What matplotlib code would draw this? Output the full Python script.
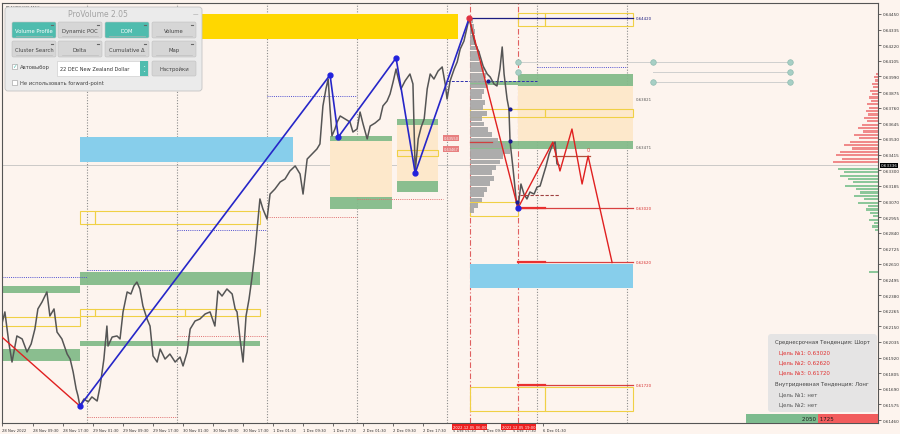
import matplotlib.pyplot as plt
from matplotlib.patches import Rectangle, FancyBboxPatch

# ---------------------------------------------------------------
# data (x = trading hours since 28 Nov 00:00, weekend collapsed)
# ---------------------------------------------------------------
hours = [1.3, 2.1, 3.2, 4.0, 5.3, 6.7, 8.0, 9.1, 10.1, 10.9,
         12.0, 13.3, 14.1, 15.2, 16.0, 17.3, 18.7, 19.5, 20.3, 21.1,
         21.6, 22.1, 23.2, 24.3, 25.3, 26.7, 27.5, 28.5, 29.3, 29.6,
         30.7, 32.0, 32.8, 33.6, 34.7, 35.7, 36.5, 37.3, 38.1, 38.9,
         40.0, 40.8, 41.6, 42.7, 43.5, 44.8, 46.1, 47.5, 48.8, 49.6,
         50.7, 51.5, 52.8, 54.1, 55.5, 56.8, 58.1, 58.9, 60.0, 61.3,
         62.7, 63.5, 64.0, 64.8, 65.6, 66.4, 67.2, 68.0, 68.8, 69.3,
         70.1, 70.9, 72.0, 72.8, 74.1, 75.5, 76.8, 78.1, 79.5, 80.8,
         81.6, 82.7, 84.0, 85.3, 86.1, 86.9, 87.7, 88.3, 88.8, 89.3,
         90.1, 90.7, 91.5, 92.8, 94.1, 94.9, 96.0, 96.8, 97.6, 98.7,
         99.5, 100.8, 102.1, 102.9, 104.0, 104.8, 105.6, 106.4, 106.9, 107.7,
         108.8, 110.1, 110.9, 111.5, 112.3, 113.1, 113.9, 114.7, 115.5, 116.5,
         117.6, 118.7, 119.5, 120.0, 120.8, 121.9, 122.7, 123.5, 124.5, 125.9,
         126.7, 127.5, 128.5, 129.6, 130.7, 131.5, 132.5, 133.3, 134.1, 134.7,
         135.2, 136.0, 136.5, 136.8, 137.6, 138.4, 138.9, 139.7, 140.5, 141.3,
         142.1, 143.2, 144.0, 144.8, 145.6, 146.4, 147.2, 148.0, 148.8, 149.3,
         149.9]
prices = [0.62167, 0.62256, 0.62020, 0.61887, 0.62079, 0.62057, 0.61961, 0.62020, 0.62130, 0.62278,
          0.62329, 0.62403, 0.62226, 0.62278, 0.62108, 0.62057, 0.61946, 0.61909, 0.61814, 0.61689,
          0.61637, 0.61563, 0.61615, 0.61593, 0.61630, 0.61600, 0.61711, 0.61909, 0.62152, 0.62005,
          0.62071, 0.62079, 0.62057, 0.62256, 0.62403, 0.62388, 0.62447, 0.62476, 0.62425, 0.62300,
          0.62204, 0.62152, 0.61932, 0.61887, 0.61983, 0.61909, 0.61946, 0.61887, 0.61924, 0.61858,
          0.61961, 0.62130, 0.62189, 0.62204, 0.62241, 0.62256, 0.62152, 0.62410, 0.62373, 0.62425,
          0.62388, 0.62278, 0.62256, 0.62057, 0.61887, 0.62226, 0.62351, 0.62513, 0.62705, 0.62852,
          0.63088, 0.63014, 0.62940, 0.63124, 0.63161, 0.63213, 0.63235, 0.63294, 0.63331, 0.63272,
          0.63124, 0.63382, 0.63419, 0.63456, 0.63493, 0.63773, 0.63898, 0.63971, 0.63750, 0.63552,
          0.63603, 0.63655, 0.63699, 0.63677, 0.63655, 0.63581, 0.63603, 0.63728, 0.63640, 0.63530,
          0.63625, 0.63647, 0.63677, 0.63773, 0.63809, 0.63861, 0.63949, 0.64045, 0.63986, 0.63898,
          0.63957, 0.64008, 0.63935, 0.63287, 0.63530, 0.63618, 0.63677, 0.63898, 0.64008, 0.63971,
          0.64030, 0.64060, 0.63935, 0.63824, 0.63957, 0.64045, 0.64097, 0.64192, 0.64251, 0.64420,
          0.64317, 0.64229, 0.64170, 0.64067, 0.64008, 0.63986, 0.63935, 0.63920, 0.64045, 0.64207,
          0.64008, 0.63824, 0.63750, 0.63507, 0.63309, 0.63088, 0.63020, 0.63198, 0.63124, 0.63088,
          0.63139, 0.63124, 0.63176, 0.63183, 0.63257, 0.63331, 0.63419, 0.63478, 0.63507, 0.63346,
          0.63336]
current_price = 0.63336

# zigzags
blue_zz_h = [22.1, 88.8, 91.0, 106.4, 111.5, 125.9]
blue_zz_p = [0.61563, 0.64001, 0.63544, 0.64126, 0.63279, 0.64420]
red_zz_h = [1.3, 22.1]
red_zz_p = [0.62071, 0.61563]
red_drop_h = [125.9, 138.9]
red_drop_p = [0.64420, 0.63020]
proj_h = [138.9, 148.2, 150.1, 153.3, 156.0, 157.6, 164.0]
proj_p = [0.63020, 0.63507, 0.63294, 0.63603, 0.63198, 0.63404, 0.62620]
small_dots_h = [131.0, 136.8, 136.8, 138.7]
small_dots_p = [0.63957, 0.63750, 0.63515, 0.63066]

# zones: (start h, end h, low, high)
gold_zones = [(22.1, 123.0, 0.64266, 0.64450)]
sky_zones = [(22.1, 78.9, 0.63360, 0.63544), (126.0, 169.6, 0.62432, 0.62609)]
green_zones = [(0.0, 22.1, 0.62395, 0.62447), (0.0, 22.1, 0.61895, 0.61983),
               (22.1, 70.1, 0.62454, 0.62550), (22.1, 70.1, 0.62005, 0.62042),
               (88.8, 105.3, 0.63515, 0.63552), (88.8, 105.3, 0.63014, 0.63102),
               (106.7, 117.6, 0.63633, 0.63677), (106.7, 117.6, 0.63139, 0.63220),
               (139.0, 169.6, 0.63920, 0.64008), (126.0, 139.0, 0.63927, 0.63957),
               (126.0, 169.6, 0.63456, 0.63515)]
peach_zones = [(88.8, 105.3, 0.63102, 0.63515), (106.7, 117.6, 0.63220, 0.63633),
               (139.0, 169.6, 0.63515, 0.63920)]
yellow_boxes = [(0.0, 22.1, 0.62152, 0.62219),
                (22.1, 26.1, 0.62226, 0.62278), (26.1, 50.1, 0.62226, 0.62278), (50.1, 70.1, 0.62226, 0.62278),
                (22.1, 26.1, 0.62904, 0.62999), (26.1, 70.1, 0.62904, 0.62999),
                (106.7, 117.6, 0.63404, 0.63449), (126.0, 139.0, 0.62962, 0.63066),
                (139.0, 146.1, 0.64362, 0.64457), (146.1, 169.6, 0.64362, 0.64457),
                (126.0, 146.1, 0.63692, 0.63750), (146.1, 169.6, 0.63692, 0.63750),
                (126.0, 146.1, 0.61527, 0.61703), (146.1, 169.6, 0.61527, 0.61703)]

# dotted levels: (start h, end h, price)
blue_dotted = [(1.3, 24, 0.62513), (24, 48, 0.62565), (48, 72, 0.62859), (72, 96, 0.63846), (144, 168, 0.64060)]
navy_dashed = [(120, 144, 0.63957)]
red_dotted = [(24, 48, 0.61482), (48, 72, 0.62079), (72, 96, 0.62955), (96, 119, 0.63088)]
day_breaks = [24, 48, 72, 96, 120, 144, 168]
marked_times = [126, 139]
marked_labels = ['2022.12.05 06:00', '2022.12.05 19:00']

# targets
target_levels = [0.63020, 0.62620, 0.61720]
top_level = 0.64420
level_labels = ['0.64420', '0.63821', '0.63471', '0.63020', '0.62620', '0.61720']
level_values = [0.64420, 0.63821, 0.63471, 0.63020, 0.62620, 0.61720]
level_colors = ['#1c1c80', '#555555', '#555555', '#d83030', '#d83030', '#d83030']

# grey circles / guide lines
guide_lines = [(139.0, 211.5, 0.64097), (175.0, 211.5, 0.64023), (175.0, 211.5, 0.63949)]
circle_h = [139.0, 139.0, 175.0, 175.0, 211.5, 211.5, 211.5]
circle_p = [0.64097, 0.64023, 0.64097, 0.63949, 0.64097, 0.64023, 0.63949]

# session volume profile anchored at the 5 Dec 06:00 marker
vp_levels = [0.64400, 0.64360, 0.64320, 0.64280, 0.64240, 0.64200, 0.64160, 0.64120, 0.64080,
             0.64040, 0.64000, 0.63960, 0.63920, 0.63880, 0.63840, 0.63800, 0.63760, 0.63720,
             0.63680, 0.63640, 0.63600, 0.63560, 0.63520, 0.63480, 0.63440, 0.63400, 0.63360,
             0.63320, 0.63280, 0.63240, 0.63200, 0.63160, 0.63120, 0.63080, 0.63040, 0.63000]
vp_volume = [30, 40, 50, 50, 60, 80, 100, 90, 120, 140, 160, 150, 180, 140, 120, 150, 130, 170,
             120, 140, 180, 220, 280, 350, 400, 330, 300, 260, 220, 240, 200, 170, 140, 120, 80, 40]

# right-edge profile (sell above / buy below current price)
rp_sell_levels = [0.64010, 0.63985, 0.63960, 0.63935, 0.63910, 0.63885, 0.63860, 0.63835, 0.63810,
                  0.63785, 0.63760, 0.63735, 0.63710, 0.63685, 0.63660, 0.63635, 0.63610, 0.63585,
                  0.63560, 0.63535, 0.63510, 0.63485, 0.63460, 0.63435, 0.63410, 0.63385, 0.63360]
rp_sell_vol = [2, 4, 3, 6, 5, 8, 6, 9, 7, 11, 9, 12, 10, 14, 11, 16, 20, 15, 24, 19, 28, 34, 26, 38, 42, 36, 45]
rp_buy_levels = [0.63310, 0.63285, 0.63260, 0.63235, 0.63210, 0.63185, 0.63160, 0.63135, 0.63110,
                 0.63085, 0.63060, 0.63035, 0.63010, 0.62985, 0.62960, 0.62935, 0.62910, 0.62885,
                 0.62860, 0.62550]
rp_buy_vol = [40, 34, 38, 30, 25, 33, 22, 18, 24, 14, 20, 10, 12, 8, 5, 9, 4, 6, 3, 9]

buy_total = 2050
sell_total = 1725

date_ticks = [1.4, 9.5, 17.5, 25.5, 33.5, 41.5, 49.5, 57.5, 65.5, 73.5, 81.5, 89.5,
              97.5, 105.5, 113.5, 121.5, 129.5, 137.5, 145.5]
date_labels = ['28 Nov 2022', '28 Nov 09:30', '28 Nov 17:30', '29 Nov 01:30', '29 Nov 09:30',
               '29 Nov 17:30', '30 Nov 01:30', '30 Nov 09:30', '30 Nov 17:30', '1 Dec 01:30',
               '1 Dec 09:30', '1 Dec 17:30', '2 Dec 01:30', '2 Dec 09:30', '2 Dec 17:30',
               '5 Dec 01:30', '5 Dec 09:30', '5 Dec 17:30', '6 Dec 01:30']
price_ticks = [round(0.64450 - 0.00115 * k, 5) for k in range(27)]

info_lines = [('Среднесрочная Тенденция: Шорт', '#444444', 0),
              ('Цель №1: 0.63020', '#e03030', 1),
              ('Цель №2: 0.62620', '#e03030', 1),
              ('Цель №3: 0.61720', '#e03030', 1),
              ('Внутридневная Тенденция: Лонг', '#444444', 0),
              ('Цель №1: нет', '#555555', 1),
              ('Цель №2: нет', '#555555', 1)]

# ---------------------------------------------------------------
BG = '#fdf4ee'
fig = plt.figure(figsize=(9, 4.35), dpi=100, facecolor=BG)
ax = fig.add_axes([2 / 900, 11 / 435, 876 / 900, 420 / 435], facecolor=BG)
ax.set_xlim(1.33, 234.9)
ax.set_ylim(0.61438, 0.64531)


def boxes(zones, **kw):
    for h0, h1, lo, hi in zones:
        ax.add_patch(Rectangle((h0, lo), h1 - h0, hi - lo, **kw))


boxes(peach_zones, fc='#fde8cb', ec='none', zorder=1)
boxes(gold_zones, fc='#ffd700', ec='none', zorder=1)
boxes(sky_zones, fc='#87ceeb', ec='none', zorder=1)
boxes(green_zones, fc='#84bb8a', ec='none', alpha=0.95, zorder=1.2)
boxes(yellow_boxes, fc='none', ec='#f0d045', lw=0.8, zorder=1.5)

# separators
for h in day_breaks:
    ax.axvline(h, color='#8c8c8c', ls=(0, (1, 1.5)), lw=0.8, zorder=0.8)
for h in marked_times:
    ax.axvline(h, color='#e06060', ls=(0, (5, 2, 1, 2)), lw=0.8, zorder=0.9)
ax.axhline(current_price, color='#b8b8b8', lw=0.5, zorder=0.7)

for h0, h1, p in blue_dotted:
    ax.plot([h0, h1], [p, p], color='#5050d0', ls=(0, (1, 1.2)), lw=0.7, zorder=2)
for h0, h1, p in navy_dashed:
    ax.plot([h0, h1], [p, p], color='#3030b0', ls=(0, (3, 1.5)), lw=0.7, zorder=2)
for h0, h1, p in red_dotted:
    ax.plot([h0, h1], [p, p], color='#e07070', ls=(0, (1, 1.2)), lw=0.7, zorder=2)

# session volume profile
ax.barh(vp_levels, [v * 0.0267 for v in vp_volume], left=126.0, height=0.00036,
        color='#a5a5a5', alpha=0.9, zorder=2)
ax.plot([126.0, 132.1], [0.63507, 0.63507], color='#d04040', lw=0.9, zorder=2.2)

# right profile
ax.barh(rp_sell_levels, [-v * 0.267 for v in rp_sell_vol], left=234.9, height=0.00016,
        color='#f08a8a', zorder=2)
ax.barh(rp_buy_levels, [-v * 0.267 for v in rp_buy_vol], left=234.9, height=0.00016,
        color='#8cc79a', zorder=2)

# guide circles
for h0, h1, p in guide_lines:
    ax.plot([h0, h1], [p, p], color='#cfcfcf', lw=0.7, zorder=2)
ax.plot(circle_h, circle_p, 'o', ms=4, color='#a7cfc5', mec='#8fbcb0', mew=0.5, zorder=3)

# price
ax.plot(hours, prices, color='#555555', lw=1.1, zorder=3)

# target levels
ax.plot([125.9, 169.6], [top_level, top_level], color='#1c1c80', lw=0.9, zorder=3.5)
for p in target_levels:
    ax.plot([139.0, 169.6], [p, p], color='#d84040', lw=0.9, zorder=3.5)
    ax.plot([139.0, 146.1], [p, p], color='#e83030', lw=1.6, zorder=3.5)
ax.plot([148.3, 158.1], [0.63404, 0.63404], color='#b0503a', lw=0.9, zorder=3.5)
ax.plot([139.5, 150.1], [0.63117, 0.63117], color='#a04040', ls=(0, (3, 1.5)), lw=0.8, zorder=3.5)
ax.text(157.6, 0.63455, '0', color='#e04040', fontsize=3.5, ha='center', va='center', zorder=4)
for lab, val, col in zip(level_labels, level_values, level_colors):
    ax.text(170.4, val, lab, fontsize=2.8, color=col, va='center', ha='left', zorder=4)

# zigzags
ax.plot(red_zz_h, red_zz_p, color='#e02020', lw=1.0, zorder=4)
ax.plot(red_drop_h, red_drop_p, color='#e02020', lw=1.0, zorder=4)
ax.plot(proj_h, proj_p, color='#e02020', lw=1.0, zorder=4)
ax.plot(blue_zz_h, blue_zz_p, color='#2626c8', lw=1.2, zorder=4.2)
ax.plot(blue_zz_h[:-1], blue_zz_p[:-1], 'o', ms=3.5, color='#2222dd', zorder=4.3)
ax.plot([blue_zz_h[-1]], [blue_zz_p[-1]], 'o', ms=3.5, color='#e03040', zorder=4.3)
ax.plot([red_drop_h[-1]], [red_drop_p[-1]], 'o', ms=3.5, color='#2222dd', zorder=4.3)
ax.plot(small_dots_h, small_dots_p, 'o', ms=2, color='#1a1a90', zorder=4.3)

# small price tags near the 5 Dec open
for p, lab in [(0.63537, '0.63550'), (0.63456, '0.63467')]:
    ax.text(121.0, p, lab, fontsize=2.6, color='#f4f4f4', ha='center', va='center', zorder=4,
            bbox=dict(boxstyle='square,pad=0.15', fc='#e88080', ec='none'))

# axes styling
for s in ax.spines.values():
    s.set_color('#555555')
    s.set_linewidth(0.8)
ax.yaxis.tick_right()
ax.set_yticks(price_ticks)
ax.set_yticklabels(['%.5f' % v for v in price_ticks])
ax.tick_params(axis='y', labelsize=3.0, length=2, width=0.5, pad=1.5, colors='#333333')
ax.set_xticks(date_ticks)
ax.set_xticklabels(date_labels, ha='left')
ax.tick_params(axis='x', labelsize=2.7, length=2, width=0.5, pad=1.5, colors='#333333')

for h, lab in zip(marked_times, marked_labels):
    ax.text(h, -0.005, lab, transform=ax.get_xaxis_transform(), fontsize=2.7, color='white',
            ha='center', va='top', zorder=6,
            bbox=dict(boxstyle='square,pad=0.2', fc='#ee2020', ec='none'))
ax.text(1.003, current_price, '%.5f' % current_price, transform=ax.get_yaxis_transform(),
        fontsize=3.0, color='white', ha='left', va='center', zorder=6,
        bbox=dict(boxstyle='square,pad=0.15', fc='black', ec='none'))
ax.text(0.004, 0.997, '▼ NZDUSD,M15', transform=ax.transAxes, fontsize=3.2, color='#333333',
        ha='left', va='top')

# buy / sell bar
ab = fig.add_axes([746 / 900, 11 / 435, 132 / 900, 9 / 435])
ab.barh(0, buy_total, height=1, color='#7dbb8e')
ab.barh(0, sell_total, left=buy_total, height=1, color='#f25c5c')
ab.set_xlim(0, buy_total + sell_total)
ab.set_ylim(-0.5, 0.5)
ab.axis('off')
ab.text(buy_total, 0, str(buy_total) + ' ', ha='right', va='center', fontsize=4, color='#1c1c1c')
ab.text(buy_total, 0, ' ' + str(sell_total), ha='left', va='center', fontsize=4, color='#1c1c1c')

# ---------------------------------------------------------------
# overlay UI (pixel coordinates)
# ---------------------------------------------------------------
ui = fig.add_axes([0, 0, 1, 1], zorder=10)
ui.set_xlim(0, 900)
ui.set_ylim(435, 0)
ui.axis('off')
ui.patch.set_alpha(0)

# info box
ui.add_patch(FancyBboxPatch((768, 335), 109, 78, boxstyle='round,pad=0,rounding_size=3',
                            fc='#e4e4e4', ec='none', alpha=0.95))
for i, (txt, col, ind) in enumerate(info_lines):
    y = 343 + i * 10 + (2 if i >= 4 else 0)
    ui.text(775 + ind * 4, y, txt, fontsize=3.9, color=col, va='center', ha='left')

# ProVolume panel
ui.add_patch(FancyBboxPatch((5, 8), 197, 84, boxstyle='round,pad=0,rounding_size=3',
                            fc='#ebebeb', ec='#c4c4c4', lw=0.6))
ui.text(98, 14.5, 'ProVolume 2.05', ha='center', va='center', fontsize=5.5, color='#a3a3a3')
ui.text(195, 14.5, '—', ha='center', va='center', fontsize=4, color='#888888')

TEAL = '#4fbcae'
buttons = [('Volume Profile', 12, 23, True), ('Dynamic POC', 58, 23, False),
           ('DOM', 105, 23, True), ('Volume', 152, 23, False),
           ('Cluster Search', 12, 42, False), ('Delta', 58, 42, False),
           ('Cumulative Δ', 105, 42, False), ('Map', 152, 42, False)]
for lab, bx, by, active in buttons:
    ui.add_patch(FancyBboxPatch((bx, by), 44, 16, boxstyle='round,pad=0,rounding_size=1.5',
                                fc=TEAL if active else '#d6d6d6', ec='#c0c0c0', lw=0.4))
    ui.text(bx + 22, by + 8.5, lab, ha='center', va='center', fontsize=3.8,
            color='white' if active else '#444444')
    ui.plot([bx + 4, bx + 40], [by + 14, by + 14], color='#9ab8b2' if active else '#c4c4c4', lw=0.6)
    ui.plot([bx + 39, bx + 41], [by + 2.5, by + 2.5], color='#666666', lw=0.8)

ui.add_patch(Rectangle((12, 65), 5, 5, fc='white', ec='#999999', lw=0.4))
ui.text(14.5, 66.5, '✓', ha='center', va='center', fontsize=4, color=TEAL)
ui.text(20, 68, 'Автовыбор', ha='left', va='center', fontsize=3.8, color='#444444')
ui.add_patch(Rectangle((57, 62), 91, 15, fc='white', ec='#c8c8c8', lw=0.4))
ui.add_patch(Rectangle((140, 62), 8, 15, fc=TEAL, ec='none'))
ui.text(144, 69.5, '⌃\n⌄', ha='center', va='center', fontsize=2.6, color='white', linespacing=0.8)
ui.text(60, 69.5, '22 DEC New Zealand Dollar', ha='left', va='center', fontsize=3.6, color='#333333')
ui.add_patch(FancyBboxPatch((152, 62), 44, 15, boxstyle='round,pad=0,rounding_size=1.5',
                            fc='#d6d6d6', ec='#c0c0c0', lw=0.4))
ui.text(174, 69.5, 'Настройки', ha='center', va='center', fontsize=3.8, color='#444444')
ui.add_patch(Rectangle((12, 81), 5, 5, fc='white', ec='#999999', lw=0.4))
ui.text(20, 84, 'Не использовать forward-point', ha='left', va='center', fontsize=3.8, color='#444444')

fig.savefig('out.png', dpi=100, facecolor=BG)
